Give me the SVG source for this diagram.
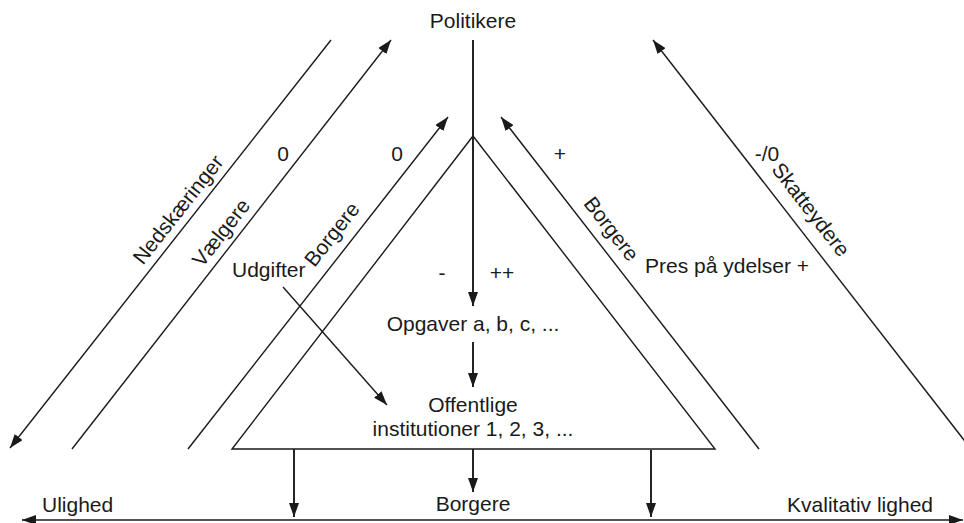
<svg xmlns="http://www.w3.org/2000/svg" width="964" height="523" viewBox="0 0 964 523">
<style>
text{font-family:"Liberation Sans",Arial,sans-serif;font-size:21px;fill:#1a1a1a}
.c{text-anchor:middle}
.ln{stroke:#1a1a1a;stroke-width:1.4;fill:none}
.v{stroke:#1a1a1a;stroke-width:1.9;fill:none}
.a{marker-end:url(#ah)}
</style>
<defs>
<marker id="ah" viewBox="0 0 14 10" refX="14" refY="5" markerWidth="14" markerHeight="10" markerUnits="userSpaceOnUse" orient="auto-start-reverse">
<path d="M0,0 L14,5 L0,10 Z" fill="#1a1a1a"/>
</marker>
</defs>
<rect width="964" height="523" fill="#fff"/>
<g id="connectors">
<line class="ln a" x1="331" y1="40" x2="10" y2="448"/>
<line class="ln a" x1="72" y1="449" x2="391" y2="40"/>
<line class="ln a" x1="188" y1="449" x2="448" y2="117"/>
<line class="ln a" x1="759" y1="449" x2="501" y2="117"/>
<line class="ln a" x1="971" y1="449" x2="653" y2="40"/>
<line class="v a" x1="473" y1="40" x2="473" y2="306"/>
<line class="v a" x1="473" y1="342" x2="473" y2="387"/>
<line class="v a" x1="473" y1="449" x2="473" y2="492"/>
<line class="v a" x1="294" y1="449" x2="294" y2="517"/>
<line class="v a" x1="651" y1="450" x2="651" y2="517"/>
<line class="ln a" x1="283" y1="287" x2="387" y2="405"/>
<line class="ln a" x1="22" y1="520" x2="963" y2="520" marker-start="url(#ah)"/>
</g>
<g id="triangle">
<polygon class="ln" points="473,136 715,449 232,449"/>
</g>
<g id="politikere"><text class="c" x="473" y="28">Politikere</text></g>
<g id="opgaver"><text class="c" x="473" y="331">Opgaver a, b, c, ...</text></g>
<g id="institutioner"><text class="c" x="473" y="412">Offentlige</text><text class="c" x="473" y="436">institutioner 1, 2, 3, ...</text></g>
<g id="borgere-bund"><text class="c" x="473" y="511">Borgere</text></g>
<g id="ulighed"><text x="42" y="512">Ulighed</text></g>
<g id="kvalitativ"><text x="933" y="512" text-anchor="end">Kvalitativ lighed</text></g>
<g id="udgifter"><text x="232" y="277">Udgifter</text></g>
<g id="pres"><text x="645" y="273">Pres på ydelser +</text></g>
<g id="labels">
<text class="c" x="283" y="161">0</text>
<text class="c" x="397" y="161">0</text>
<text class="c" x="560" y="161">+</text>
<text class="c" x="767" y="161">-/0</text>
<text class="c" x="442" y="280">-</text>
<text class="c" x="502" y="280">++</text>
</g>
<g id="nedskaeringer"><text class="c" transform="translate(190,219) rotate(-51.8)" x="0" y="-8">Nedskæringer</text></g>
<g id="vaelgere"><text class="c" transform="translate(233,242) rotate(-52)" x="0" y="-8">Vælgere</text></g>
<g id="borgere-v"><text class="c" transform="translate(347,246) rotate(-51.9)" x="0" y="-12">Borgere</text></g>
<g id="borgere-h"><text class="c" transform="translate(597,240) rotate(52.2)" x="0" y="-11">Borgere</text></g>
<g id="skatteydere"><text class="c" transform="translate(795,222) rotate(52.1)" x="0" y="-13">Skatteydere</text></g>
</svg>
